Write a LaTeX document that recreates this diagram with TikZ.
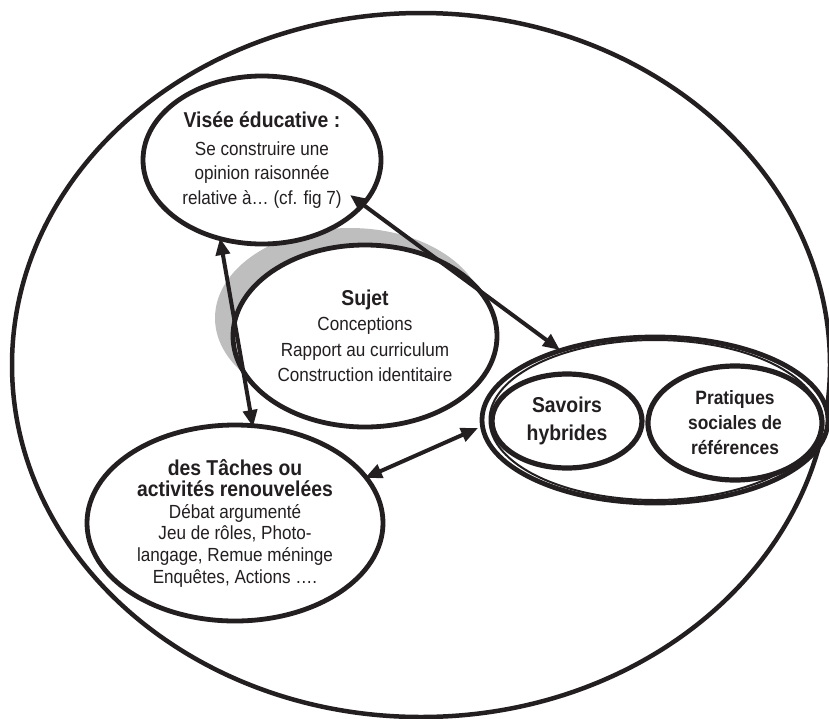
\documentclass[tikz,border=0pt]{standalone}
\usepackage{fontspec}
\setmainfont{Liberation Sans}[FakeStretch=0.9]
\usetikzlibrary{shapes.geometric,arrows.meta}
\definecolor{shade}{RGB}{190,190,190}
\definecolor{ink}{RGB}{35,31,32}
\newcommand\bigbold[1]{{\fontsize{21.5}{24}\selectfont\bfseries #1}}
\begin{document}
\begin{tikzpicture}[x=1pt,y=-1pt,
  oval/.style={ellipse, draw=ink, line width=4.8pt, fill=white, inner sep=0pt, align=center, text=ink},
  link/.style={draw=ink, line width=4pt, {Triangle[length=17pt,width=14pt]}-{Triangle[length=17pt,width=14pt]}}
]
\useasboundingbox (0,0) rectangle (829,718);
% outer frame
\node[ellipse, draw=ink, line width=4.5pt, minimum width=818pt, minimum height=704pt, inner sep=0pt] (outer) at (421,365) {};
% shadow of Sujet
\node[ellipse, fill=shade, minimum width=270pt, minimum height=180pt, inner sep=0pt] (shadow) at (350,318) {};
% Visee
\node[oval, minimum width=238pt, minimum height=168pt, font=\fontsize{19}{24.5}\selectfont] (visee) at (262,160)
  {\bigbold{Visée éducative :}\\[3pt]Se construire une\\opinion raisonnée\\relative à… (cf. fig 7)};
% Sujet
\node[oval, minimum width=264pt, minimum height=182pt, font=\fontsize{19}{25.5}\selectfont] (sujet) at (365,336)
  {\bigbold{Sujet}\\Conceptions\\Rapport au curriculum\\Construction identitaire};
% Taches
\node[oval, minimum width=296pt, minimum height=196pt, font=\fontsize{19}{21.6}\selectfont] (taches) at (235,523)
  {\bigbold{des Tâches ou}\\\bigbold{activités renouvelées}\\Débat argumenté\\Jeu de rôles, Photo-\\langage, Remue méninge\\Enquêtes, Actions ….};
% Savoirs group (double line)
\node[oval, minimum width=346pt, minimum height=166pt] (savoirs) at (655,420) {};
\node[ellipse, draw=ink, line width=2pt, minimum width=331pt, minimum height=160pt, inner sep=0pt] (savoirsin) at (655,420) {};
\node[oval, line width=5.2pt, minimum width=150pt, minimum height=94pt, font=\fontsize{21.5}{28}\selectfont\bfseries] (hybrides) at (567,421)
  {Savoirs\\hybrides};
\node[oval, line width=5.2pt, minimum width=174pt, minimum height=114pt, font=\fontsize{19.3}{25}\selectfont\bfseries] (pratiques) at (735,423)
  {Pratiques\\sociales de\\références};
% connector end points
\coordinate (vA) at (350,195);
\coordinate (sA) at (560,350);
\coordinate (vB) at (220,238);
\coordinate (tB) at (253,427);
\coordinate (tC) at (365,478);
\coordinate (sC) at (478,428);
\draw[link] (vA) -- (sA);
\draw[link] (vB) -- (tB);
\draw[link] (tC) -- (sC);
\end{tikzpicture}
\end{document}
